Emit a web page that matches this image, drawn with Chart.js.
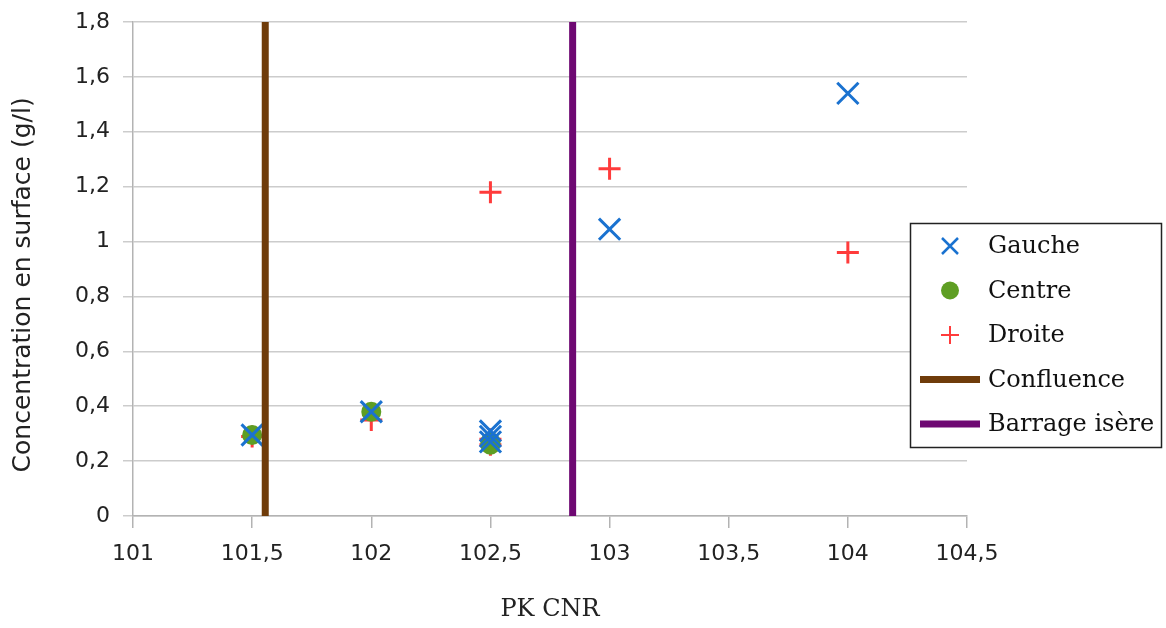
<!DOCTYPE html>
<html>
<head>
<meta charset="utf-8">
<script src="https://cdn.jsdelivr.net/npm/chart.js@4/dist/chart.umd.min.js"></script>
<style>
html,body{margin:0;padding:0;background:#fff;}
#wrap{width:1166px;height:628px;position:relative;}
</style>
</head>
<body>
<div id="wrap"><canvas id="chart" width="1166" height="628"></canvas></div>
<script>
/* DATA */
const gaucheX=[101.5,102,102.5,102.5,102.5,103,104];
const gaucheY=[0.295,0.38,0.31,0.29,0.27,1.045,1.54];
const centreX=[101.5,102,102.5,102.5];
const centreY=[0.295,0.38,0.27,0.26];
const droiteX=[101.5,102,102.5,102.5,102.5,103,104];
const droiteY=[0.29,0.35,0.28,0.26,1.18,1.265,0.96];
const confluenceX=101.555;
const barrageX=102.845;
const yRange=[0,1.8];
const xTicks=[101,101.5,102,102.5,103,103.5,104,104.5];

const pts=(xs,ys)=>xs.map((x,i)=>({x:x,y:ys[i]}));
const vline=x=>[{x:x,y:yRange[0]},{x:x,y:yRange[1]}];
const comma=v=>String(Math.round(v*10)/10).replace(".",",");

/* LEGEND BOX */
const boxLegend={
id:"boxLegend",
afterDraw(chart){
const c=chart.ctx;
const items=[
{label:"Gauche",type:"crossRot",color:"#1a72d0"},
{label:"Centre",type:"circle",color:"#5e9e23"},
{label:"Droite",type:"cross",color:"#ff3b3b"},
{label:"Confluence",type:"line",color:"#6f3c0a"},
{label:"Barrage isère",type:"line",color:"#6e0872"}
];
c.save();
c.fillStyle="#fff";
c.fillRect(910,223,252,225);
c.strokeStyle="#222";
c.lineWidth=1.5;
c.strokeRect(910.5,223.5,251,224);
c.font="24px 'DejaVu Serif'";
c.textBaseline="middle";
items.forEach((it,i)=>{
let y=246+i*44.5;
let x=950;
c.strokeStyle=it.color;c.fillStyle=it.color;
if(it.type=="line"){
c.lineWidth=7;c.beginPath();c.moveTo(920,y);c.lineTo(980,y);c.stroke();
}else if(it.type=="circle"){
c.beginPath();c.arc(x,y,9,0,Math.PI*2);c.fill();
}else if(it.type=="crossRot"){
c.lineWidth=2.5;c.beginPath();
c.moveTo(x-8,y-8);c.lineTo(x+8,y+8);c.moveTo(x+8,y-8);c.lineTo(x-8,y+8);c.stroke();
}else{
c.lineWidth=2;c.beginPath();
c.moveTo(x-9,y);c.lineTo(x+9,y);c.moveTo(x,y-9);c.lineTo(x,y+9);c.stroke();
}
c.fillStyle="#111";
c.fillText(it.label,988,y+1);
});
c.restore();
}
};

new Chart(document.getElementById("chart"),{
type:"scatter",
data:{
datasets:[
{label:"Gauche",data:pts(gaucheX,gaucheY),pointStyle:"crossRot",pointRadius:15,pointHoverRadius:15,borderColor:"#1a72d0",backgroundColor:"#1a72d0",pointBorderWidth:3,order:1},
{label:"Centre",data:pts(centreX,centreY),pointStyle:"circle",pointRadius:10,pointHoverRadius:10,borderColor:"#5e9e23",backgroundColor:"#5e9e23",pointBorderWidth:0,order:2},
{label:"Droite",data:pts(droiteX,droiteY),pointStyle:"cross",pointRadius:11,pointHoverRadius:11,borderColor:"#ff3b3b",backgroundColor:"#ff3b3b",pointBorderWidth:3,order:3},
{label:"Confluence",data:vline(confluenceX),showLine:true,pointRadius:0,borderColor:"#6f3c0a",borderWidth:7,order:0},
{label:"Barrage isère",data:vline(barrageX),showLine:true,pointRadius:0,borderColor:"#6e0872",borderWidth:7,order:0}
]
},
options:{
responsive:false,
animation:false,
events:[],
layout:{padding:{left:0,top:22,right:199,bottom:0}},
plugins:{legend:{display:false},tooltip:{enabled:false}},
scales:{
x:{
type:"linear",min:xTicks[0],max:xTicks[xTicks.length-1],
afterFit:s=>{s.height=112;s.paddingLeft=0;s.paddingRight=0;},
afterBuildTicks:s=>{s.ticks=xTicks.map(v=>({value:v}));},
ticks:{callback:comma,color:"#222",font:{family:"DejaVu Sans",size:22},padding:13,maxRotation:0},
grid:{drawOnChartArea:false,drawTicks:true,tickLength:12,color:"#b3b3b3",lineWidth:1.5},
border:{color:"#b3b3b3",width:1.5},
title:{display:true,text:"PK CNR",color:"#222",font:{family:"DejaVu Serif",size:24},padding:{top:4,bottom:4}}
},
y:{
min:yRange[0],max:yRange[1],
afterFit:s=>{s.width=133;s.paddingTop=0;s.paddingBottom=0;},
ticks:{stepSize:0.2,callback:comma,color:"#222",font:{family:"DejaVu Sans",size:22},padding:13},
grid:{color:"#cccccc",lineWidth:1.5,tickLength:10},
border:{color:"#b3b3b3",width:1.5},
title:{display:true,text:"Concentration en surface (g/l)\u00a0\u00a0\u00a0\u00a0",color:"#222",font:{family:"DejaVu Sans",size:25},padding:{top:8,bottom:4}}
}
}
},
plugins:[boxLegend]
});
</script>
</body>
</html>
